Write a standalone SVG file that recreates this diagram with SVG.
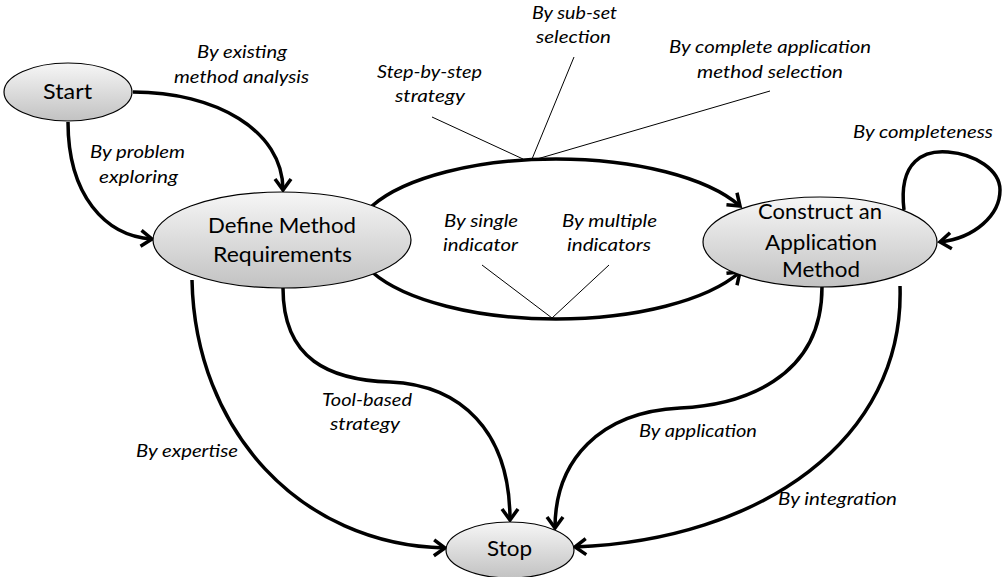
<svg xmlns="http://www.w3.org/2000/svg" width="1003" height="577" viewBox="0 0 1003 577">
<style>
.node{fill:url(#g);stroke:#000;stroke-width:1.2}
.nt{font-family:Lato,"Liberation Sans",sans-serif;font-size:22px;fill:#000;text-anchor:middle}
.lb{font-family:Lato,"Liberation Sans",sans-serif;font-size:18px;font-style:italic;fill:#000;text-anchor:middle}
.c{fill:none;stroke:#000;stroke-width:3.5;marker-end:url(#ah)}
.t{fill:none;stroke:#000;stroke-width:1}
</style>
<defs>
<linearGradient id="g" x1="0" y1="0" x2="0" y2="1">
<stop offset="0" stop-color="#f6f6f6"/>
<stop offset="1" stop-color="#c2c2c2"/>
</linearGradient>
<marker id="ah" markerUnits="userSpaceOnUse" viewBox="-16 -12 20 24" refX="0" refY="0" markerWidth="20" markerHeight="24" orient="auto">
<path d="M-11,-8 L0,0 L-11,8" fill="none" stroke="#000" stroke-width="3.5" stroke-linejoin="miter"/>
</marker>
</defs>
<rect width="1003" height="577" fill="#fff"/>
<g id="connectors">
<path class="c" d="M133,92 C215,92 283,130 283,190"/>
<path class="c" d="M68,122 C68,195 105,236 152,239"/>
<path class="c" d="M372,206 A202,80 0 0,1 740,206"/>
<path class="c" d="M372,272 A202,80 0 0,0 740,272"/>
<path class="c" d="M192,280 C195,430 300,545 445,548"/>
<path class="c" d="M283,288 C283,360 330,380 390,382 C460,385 510,430 510,520"/>
<path class="c" d="M822,287 C822,380 740,405 680,408 C600,412 555,460 555,528"/>
<path class="c" d="M900,286 C905,440 760,540 575,547"/>
<path class="c" d="M904,210 C898,160 925,150 948,152 C975,154 1000,170 1000,190 C1000,215 975,238 940,242"/>
<line class="t" x1="432" y1="117" x2="523" y2="159"/>
<line class="t" x1="574" y1="57" x2="532" y2="159"/>
<line class="t" x1="770" y1="91" x2="537" y2="159"/>
<line class="t" x1="482" y1="265" x2="552" y2="318"/>
<line class="t" x1="609" y1="265" x2="552" y2="318"/>
</g>
<g id="start">
<ellipse class="node" cx="68" cy="92" rx="64" ry="29"/>
<text class="nt" x="67.5" y="99" textLength="49" lengthAdjust="spacingAndGlyphs">Start</text>
</g>
<g id="define">
<ellipse class="node" cx="282" cy="240" rx="129" ry="48"/>
<text class="nt" x="282" y="233" textLength="148" lengthAdjust="spacingAndGlyphs">Define Method</text>
<text class="nt" x="282.5" y="262" textLength="139" lengthAdjust="spacingAndGlyphs">Requirements</text>
</g>
<g id="construct">
<ellipse class="node" cx="820" cy="242" rx="117" ry="45"/>
<text class="nt" x="820" y="219" textLength="124" lengthAdjust="spacingAndGlyphs">Construct an</text>
<text class="nt" x="821" y="250" textLength="112" lengthAdjust="spacingAndGlyphs">Application</text>
<text class="nt" x="821" y="277" textLength="78" lengthAdjust="spacingAndGlyphs">Method</text>
</g>
<g id="stop">
<ellipse class="node" cx="510" cy="550" rx="64" ry="28"/>
<text class="nt" x="509.5" y="556" textLength="45" lengthAdjust="spacingAndGlyphs">Stop</text>
</g>
<g id="labels">
<text class="lb" x="242" y="58" textLength="90" lengthAdjust="spacingAndGlyphs">By existing</text>
<text class="lb" x="241.5" y="83" textLength="135" lengthAdjust="spacingAndGlyphs">method analysis</text>
<text class="lb" x="137.5" y="158" textLength="95" lengthAdjust="spacingAndGlyphs">By problem</text>
<text class="lb" x="138.5" y="183" textLength="79" lengthAdjust="spacingAndGlyphs">exploring</text>
<text class="lb" x="429.5" y="78" textLength="105" lengthAdjust="spacingAndGlyphs">Step-by-step</text>
<text class="lb" x="430" y="102" textLength="70" lengthAdjust="spacingAndGlyphs">strategy</text>
<text class="lb" x="574.5" y="19" textLength="85" lengthAdjust="spacingAndGlyphs">By sub-set</text>
<text class="lb" x="573.5" y="43" textLength="75" lengthAdjust="spacingAndGlyphs">selection</text>
<text class="lb" x="770" y="53" textLength="202" lengthAdjust="spacingAndGlyphs">By complete application</text>
<text class="lb" x="770" y="78" textLength="146" lengthAdjust="spacingAndGlyphs">method selection</text>
<text class="lb" x="481" y="227" textLength="74" lengthAdjust="spacingAndGlyphs">By single</text>
<text class="lb" x="480.5" y="251" textLength="75" lengthAdjust="spacingAndGlyphs">indicator</text>
<text class="lb" x="609.5" y="227" textLength="95" lengthAdjust="spacingAndGlyphs">By multiple</text>
<text class="lb" x="609" y="251" textLength="84" lengthAdjust="spacingAndGlyphs">indicators</text>
<text class="lb" x="923" y="138" textLength="140" lengthAdjust="spacingAndGlyphs">By completeness</text>
<text class="lb" x="367" y="406" textLength="90" lengthAdjust="spacingAndGlyphs">Tool-based</text>
<text class="lb" x="365" y="430" textLength="70" lengthAdjust="spacingAndGlyphs">strategy</text>
<text class="lb" x="187" y="457" textLength="102" lengthAdjust="spacingAndGlyphs">By expertise</text>
<text class="lb" x="698" y="437" textLength="118" lengthAdjust="spacingAndGlyphs">By application</text>
<text class="lb" x="837.5" y="505" textLength="119" lengthAdjust="spacingAndGlyphs">By integration</text>
</g>
</svg>
